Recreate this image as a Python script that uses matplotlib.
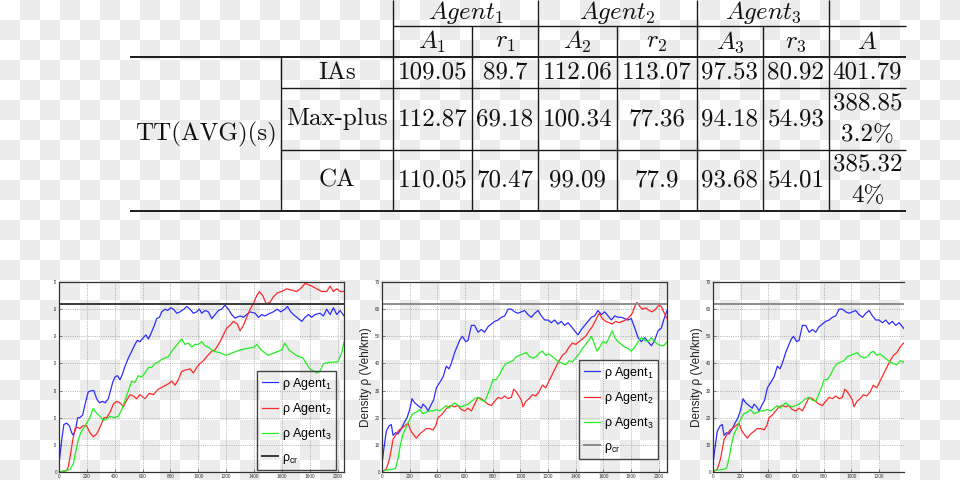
"""
Results table (travel times) and density curves for the three agents.
"""

import numpy as np
import matplotlib
matplotlib.use("Agg")
import matplotlib.pyplot as plt
from matplotlib.colors import ListedColormap
from matplotlib.transforms import Bbox, TransformedBbox

plt.rcParams['font.family'] = ['Liberation Sans', 'DejaVu Sans']
plt.rcParams['mathtext.fontset'] = 'custom'
plt.rcParams['mathtext.rm'] = 'Liberation Sans'
plt.rcParams['mathtext.it'] = 'Liberation Sans:italic'

# ---------------- table data ----------------
agents = ['$Agent_1$', '$Agent_2$', '$Agent_3$']
sub_cols = ['$A_1$', '$r_1$', '$A_2$', '$r_2$', '$A_3$', '$r_3$', '$A$']
methods = ['IAs', 'Max-plus', 'CA']
row_group = 'TT(AVG)(s)'
tt_ias = [109.05, 89.7, 112.06, 113.07, 97.53, 80.92, 401.79]
tt_maxplus = [112.87, 69.18, 100.34, 77.36, 94.18, 54.93, 388.85]
tt_ca = [110.05, 70.47, 99.09, 77.9, 93.68, 54.01, 385.32]
gain = ['', '3.2%', '4%']

# ---------------- curve data (time s, density veh/km) ----------------
rho_cr = 62

# panel 1
t1_a1 = [0, 20, 35, 55, 75, 90, 103, 120, 134, 150, 170, 187, 210, 235, 250,
         270, 290, 313, 330, 354, 370, 385, 402, 419, 438, 455, 474, 498, 522, 545,
         562, 581, 605, 624, 641, 660, 684, 701, 720, 737, 761, 780, 801, 821, 845,
         868, 897, 916, 940, 964, 988, 1007, 1024, 1048, 1072, 1096, 1120, 1144, 1167, 1191,
         1215, 1239, 1263, 1299, 1323, 1347, 1371, 1407, 1431, 1455, 1478, 1514, 1538, 1567, 1591,
         1622, 1639, 1663, 1682, 1706, 1742, 1766, 1790, 1813, 1837, 1873, 1897, 1921, 1945, 1969,
         1993, 2017, 2045]
r1_a1 = [3, 12, 17.5, 18, 17, 14.5, 13.5, 16, 20, 20, 21, 25, 29.5, 30, 30,
         27, 25.5, 26, 25.5, 27, 30, 33, 35, 35.5, 34, 36, 39, 42, 44.5, 47,
         48.5, 48, 49.5, 50.5, 49, 51, 54, 56.5, 57, 59, 60, 59.5, 60.5, 60, 58.5,
         59, 60, 61, 60, 58.5, 59, 60, 58.5, 59.5, 59, 56.5, 58, 59.5, 60, 61.5,
         60, 58, 56.7, 57.5, 57, 58, 59, 58.5, 57, 58, 57.5, 58.5, 59, 60, 59,
         60, 61, 59, 58, 57, 55.5, 57, 58, 57, 58, 58.5, 57.5, 60, 58, 60.5,
         58, 59.5, 57.5]
t1_a2 = [0, 55, 67, 84, 98, 115, 132, 150, 170, 198, 222, 246, 270, 290, 306,
         323, 342, 366, 390, 414, 438, 462, 486, 510, 533, 557, 581, 617, 648, 677,
         713, 749, 785, 809, 833, 856, 880, 904, 940, 964, 988, 1012, 1036, 1060, 1096,
         1120, 1156, 1179, 1203, 1227, 1251, 1280, 1299, 1323, 1347, 1371, 1395, 1419, 1438, 1462,
         1486, 1514, 1538, 1567, 1598, 1634, 1670, 1706, 1742, 1766, 1790, 1813, 1849, 1885, 1921,
         1945, 1969, 1993, 2017, 2045]
r1_a2 = [0, 0.5, 2, 7, 11.5, 16, 16.5, 16, 17, 17, 14.5, 13, 14, 16, 18,
         20, 20, 22, 25, 26, 25.5, 24, 26.5, 28.5, 28, 27, 28.5, 27, 29, 28.5,
         30.5, 31.5, 32.5, 33.5, 32, 34, 37, 37.5, 38, 36.5, 38.5, 40, 41, 42.5, 44.5,
         45, 48, 50.5, 53, 54, 55.5, 54.5, 52, 54, 57, 60, 62, 65, 66.5, 65,
         62, 62.5, 64.5, 66, 66.5, 67.5, 67, 66.5, 68, 69.5, 69, 68.5, 67.5, 66.5, 66.5,
         68.5, 66.5, 67.5, 66.5, 66.5]
t1_a3 = [0, 55, 79, 103, 122, 139, 156, 175, 198, 222, 246, 265, 294, 318, 342,
         366, 395, 426, 450, 474, 498, 522, 545, 569, 593, 617, 641, 665, 689, 713,
         737, 761, 785, 809, 833, 856, 880, 904, 928, 952, 976, 1000, 1024, 1048, 1072,
         1108, 1150, 1200, 1250, 1300, 1350, 1400, 1420, 1450, 1500, 1550, 1600, 1620, 1650, 1700,
         1750, 1800, 1850, 1870, 1900, 1950, 2000, 2030, 2045]
r1_a3 = [0, 0.5, 1, 3, 8, 12, 14.5, 16, 18, 20, 23.5, 22, 20.5, 19, 19.5,
         20.5, 20, 20.5, 23, 26.5, 30, 33.5, 33, 35.5, 35, 36.5, 38.5, 38.5, 40, 40.5,
         41.5, 42, 42.5, 44.5, 46, 47.5, 49, 47, 47.5, 46, 47, 47, 48, 46.5, 46,
         44.5, 44, 43, 44, 45, 45.5, 46, 47, 45, 43, 44, 45, 47.5, 45, 43,
         42, 38, 36.5, 37, 40, 40.5, 40.5, 44, 48]

# panel 2 (panel 3 shows the same run, cropped)
t2_a1 = [0, 12, 31, 51, 67, 80, 99, 116, 140, 164, 181, 200, 217, 236, 260,
         284, 296, 316, 333, 357, 373, 393, 417, 441, 465, 484, 501, 525, 549, 566,
         581, 605, 622, 646, 670, 694, 718, 742, 766, 790, 814, 839, 863, 887, 911,
         935, 959, 983, 1007, 1031, 1055, 1080, 1104, 1128, 1152, 1176, 1200, 1224, 1248, 1272,
         1296, 1320, 1345, 1369, 1393, 1417, 1441, 1465, 1489, 1513, 1537, 1561, 1586, 1610, 1634,
         1658, 1682, 1706, 1730, 1754, 1778, 1802, 1827, 1851, 1875, 1899, 1923, 1947, 1971, 1995,
         2019, 2036, 2060]
r2_a1 = [3, 8, 15, 17, 17.5, 13.5, 14.5, 14, 16, 18.5, 20, 23, 27, 25.5, 24.5,
         23.5, 25, 24, 22.5, 25, 26.5, 31, 33, 35, 39, 38, 40, 44, 47, 49,
         50, 48, 48.5, 54, 54, 51.5, 52.5, 51.5, 53.5, 54.5, 55.5, 56, 57, 57.5, 60,
         60, 59, 58.5, 59, 59.5, 58, 57, 58.5, 59.5, 57.5, 56, 56, 55, 56, 54.5,
         55.5, 54, 55, 53.5, 52, 50.5, 52.5, 54, 55.5, 57, 57.5, 59.5, 58, 59, 57.5,
         56, 57.5, 57, 57, 56.5, 56, 56.5, 53, 49.5, 48, 49.5, 48, 46.5, 48.5, 52,
         53, 56, 59.5]
t2_a2 = [0, 31, 55, 80, 104, 123, 140, 164, 188, 205, 224, 248, 272, 296, 320,
         345, 369, 388, 405, 429, 453, 477, 501, 525, 549, 573, 598, 622, 646, 670,
         694, 718, 742, 766, 790, 814, 839, 863, 887, 911, 935, 952, 971, 990, 1007,
         1019, 1039, 1063, 1087, 1111, 1135, 1159, 1183, 1207, 1231, 1255, 1280, 1304, 1328, 1352,
         1376, 1400, 1424, 1448, 1472, 1496, 1520, 1545, 1569, 1593, 1617, 1641, 1665, 1689, 1713,
         1737, 1761, 1786, 1810, 1827, 1843, 1863, 1882, 1906, 1930, 1954, 1978, 2002, 2019, 2036,
         2060]
r2_a2 = [0, 1, 5, 12, 14, 15.5, 16, 17, 18, 15.5, 14, 12.5, 14, 15, 16,
         16, 15.5, 17, 20, 21, 22.5, 24, 24.5, 24, 24.5, 23, 22.5, 23.5, 22.5, 25,
         27.5, 27, 26, 25, 24.5, 26, 27.5, 27, 28, 27, 27.5, 30.5, 29.5, 28, 26.5,
         24, 26, 27, 28.5, 28, 29.5, 32, 31, 33.5, 36, 38.5, 41, 43, 44, 46,
         47.5, 47, 48, 49, 50, 52, 53.5, 56, 58.5, 56.5, 55.5, 55, 54.5, 55.5, 55,
         55.5, 56, 57, 58.5, 61, 62.5, 61, 60, 60.5, 59.5, 59, 60, 61.5, 61, 59,
         56.5]
t2_a3 = [0, 80, 99, 116, 133, 152, 171, 188, 205, 224, 248, 272, 296, 320, 345,
         369, 393, 417, 441, 465, 484, 501, 525, 549, 573, 598, 622, 646, 670, 694,
         718, 742, 759, 783, 802, 826, 851, 875, 899, 923, 947, 971, 995, 1019, 1043,
         1067, 1092, 1116, 1140, 1159, 1183, 1207, 1231, 1255, 1280, 1304, 1328, 1352, 1376, 1400,
         1424, 1448, 1472, 1496, 1513, 1537, 1554, 1573, 1598, 1622, 1646, 1665, 1682, 1706, 1730,
         1754, 1778, 1802, 1827, 1851, 1875, 1899, 1923, 1947, 1971, 1995, 2019, 2036, 2060]
r2_a3 = [0.5, 1, 1.5, 5, 10, 14, 16, 18, 20, 21.5, 22, 23, 21.5, 22, 22.5,
         22.5, 23, 22.5, 23.5, 24.5, 23.5, 24.5, 25.5, 24.5, 24, 24.5, 25, 26, 27, 27.5,
         26.5, 26, 28, 31, 34, 34, 36, 38.5, 40, 40.5, 41, 42.5, 43, 43.5, 44,
         42.5, 42, 42.5, 44, 44.5, 43, 43.5, 42.5, 41.5, 40.5, 40, 39.5, 41, 40.5, 42,
         43.5, 45.5, 47, 48.5, 50, 47, 44.5, 46, 48, 47.5, 50, 52, 49.5, 48, 47,
         46, 45.5, 44.5, 46, 48, 49.5, 48.5, 48, 49.5, 48, 47, 46.5, 46.5, 48]

labels = ['ρ Agent$_{1}$', 'ρ Agent$_{2}$', 'ρ Agent$_{3}$']
cr_label = 'ρ$_{\\mathrm{cr}}$'
colors = ['#2e2eff', '#ff2a2a', '#22ee22']

fig = plt.figure(figsize=(9.6, 4.8), dpi=100)

# background (transparent-look checkerboard) and table in pixel coordinates
bg = fig.add_axes([0, 0, 1, 1])
bg.set_xlim(0, 960)
bg.set_ylim(480, 0)
bg.axis('off')
ii, jj = np.meshgrid(np.arange(48), np.arange(24))
bg.imshow((ii + jj) % 2, cmap=ListedColormap(['white', '#ececec']),
          extent=(0, 960, 480, 0), interpolation='nearest', aspect='auto')

col_x = [393, 472, 538, 617, 697, 763, 829, 906]
row_y = [0, 26, 57, 88, 150, 211]
lc = '#1a1a1a'
bg.hlines(row_y[1], col_x[0], col_x[-1], color=lc, lw=1.0)
bg.hlines([row_y[2], row_y[5]], 130, col_x[-1], color=lc, lw=1.4)
bg.hlines([row_y[3], row_y[4]], 281, col_x[-1], color=lc, lw=1.0)
bg.vlines(281, row_y[2], row_y[5], color=lc, lw=1.0)
bg.vlines([col_x[0], col_x[2], col_x[4], col_x[6]], row_y[0], row_y[5], color=lc, lw=1.0)
bg.vlines([col_x[1], col_x[3], col_x[5]], row_y[1], row_y[5], color=lc, lw=1.0)

tkw = dict(ha='center', va='center', color='#111111', fontsize=18)
for k, name in enumerate(agents):
    bg.text((col_x[2 * k] + col_x[2 * k + 2]) / 2, 13, name, math_fontfamily='cm', **tkw)
centers = [(col_x[k] + col_x[k + 1]) / 2 for k in range(7)]
for c, name in zip(centers, sub_cols):
    bg.text(c, 42, name, math_fontfamily='cm', **tkw)

row_c = [72.5, 119, 180.5]
for r, (name, vals) in enumerate(zip(methods, [tt_ias, tt_maxplus, tt_ca])):
    bg.text(337, row_c[r], name, family='cmr10', **tkw)
    for k, v in enumerate(vals):
        if k == 6 and gain[r]:
            bg.text(centers[k], row_c[r] - 16, str(v), family='cmr10', **tkw)
            bg.text(centers[k], row_c[r] + 16, gain[r], family='cmr10', **tkw)
        else:
            bg.text(centers[k], row_c[r], str(v), family='cmr10', **tkw)
bg.text(206, 134, row_group, family='cmr10', **tkw)

# density panels
ax1 = fig.add_axes([59 / 960, 8 / 480, 285 / 960, 190 / 480])
ax2 = fig.add_axes([382 / 960, 8 / 480, 285 / 960, 190 / 480])
ax3 = fig.add_axes([713 / 960, 8 / 480, 191 / 960, 190 / 480])

panels = [
    (ax1, [(t1_a1, r1_a1), (t1_a2, r1_a2), (t1_a3, r1_a3)], 2045, '#3a3a3a'),
    (ax2, [(t2_a1, r2_a1), (t2_a2, r2_a2), (t2_a3, r2_a3)], 2060, '#8c8c8c'),
    (ax3, [(t2_a1, r2_a1), (t2_a2, r2_a2), (t2_a3, r2_a3)], 1380, '#8c8c8c'),
]
for ax, series, xmax, crc in panels:
    ax.set_facecolor('none')
    for (t, r), c, lab in zip(series, colors, labels):
        ax.plot(t, r, color=c, lw=0.9, label=lab)
    ax.axhline(rho_cr, color=crc, lw=1.4, label=cr_label)
    ax.set_xticks(range(0, 2001, 200))
    ax.set_yticks(range(0, 71, 10))
    ax.set_xlim(0, xmax)
    ax.set_ylim(0, 70)
    ax.grid(True, ls=':', color='#9a9a9a', lw=0.6)
    ax.tick_params(direction='in', length=2, width=0.5, labelsize=3.4, pad=1.5,
                   labelcolor='#333333', color='#555555')
    for s in ax.spines.values():
        s.set_color('#333333')
        s.set_linewidth(0.9)

ax3.spines['right'].set_visible(False)
for ax in (ax2, ax3):
    ax.set_ylabel('Density ρ (Veh/km)', fontsize=8.5, labelpad=2, color='#222222')

for ax, anchor in ((ax1, (0.972, 0.01)), (ax2, (0.968, 0.068))):
    leg = ax.legend(loc='lower right', bbox_to_anchor=anchor, fontsize=9,
                    fancybox=False, edgecolor='#444444', facecolor='none', framealpha=1,
                    handlelength=1.3, handletextpad=0.3, labelspacing=0.75,
                    borderpad=0.35, borderaxespad=0)
    leg.get_frame().set_linewidth(1.0)

# the left panel is cropped: only the last digit of its y tick labels shows
crop = TransformedBbox(Bbox.from_extents(54 / 960, 0, 1, 1), fig.transFigure)
for lbl in ax1.get_yticklabels():
    lbl.set_clip_box(crop)
    lbl.set_clip_on(True)

fig.savefig('out.png', dpi=100)
